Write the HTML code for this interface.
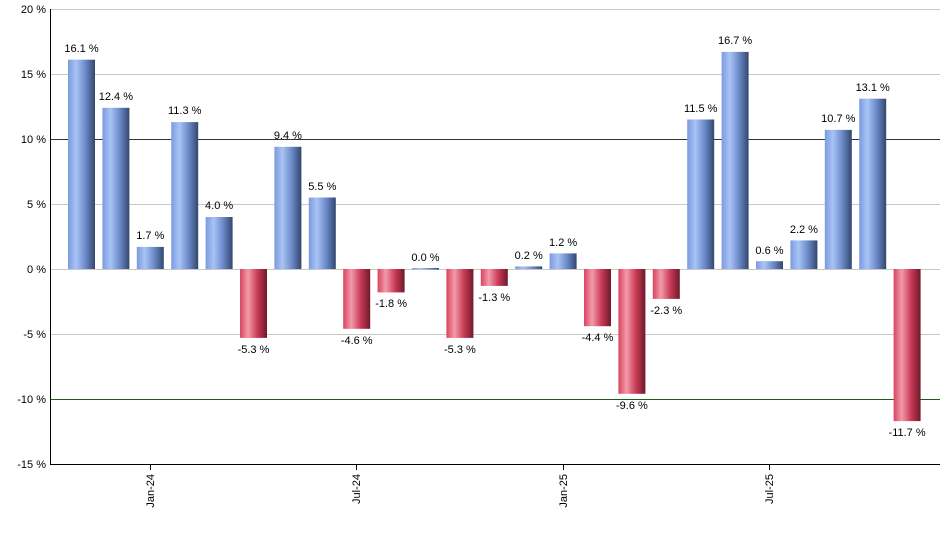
<!DOCTYPE html>
<html><head><meta charset="utf-8"><style>body{margin:0;background:#fff}svg{display:block;font-family:"Liberation Sans",sans-serif}</style></head><body>
<svg width="940" height="550" xmlns="http://www.w3.org/2000/svg">
<defs>
<linearGradient id="b" x1="0" x2="1" y1="0" y2="0"><stop offset="0" stop-color="#7b9be0"/><stop offset="0.3" stop-color="#a9c3f5"/><stop offset="0.65" stop-color="#6a89c8"/><stop offset="1" stop-color="#33476e"/></linearGradient>
<linearGradient id="r" x1="0" x2="1" y1="0" y2="0"><stop offset="0" stop-color="#d9445f"/><stop offset="0.3" stop-color="#f29aaa"/><stop offset="0.65" stop-color="#c93a55"/><stop offset="1" stop-color="#6e1a2b"/></linearGradient>
</defs>
<g stroke="#c8c8c8" stroke-width="1">
<line x1="51" x2="940" y1="9.5" y2="9.5"/><line x1="51" x2="940" y1="74.5" y2="74.5"/><line x1="51" x2="940" y1="204.5" y2="204.5"/><line x1="51" x2="940" y1="269.5" y2="269.5"/><line x1="51" x2="940" y1="334.5" y2="334.5"/>
</g>
<line x1="51" x2="940" y1="139.5" y2="139.5" stroke="#333"/>
<line x1="51" x2="940" y1="399.5" y2="399.5" stroke="#1a5e1a"/>
<g font-size="11" fill="#000" text-anchor="end">
<text x="46" y="13">20 %</text><text x="46" y="78">15 %</text><text x="46" y="143">10 %</text><text x="46" y="208">5 %</text><text x="46" y="273">0 %</text><text x="46" y="338">-5 %</text><text x="46" y="403">-10 %</text><text x="46" y="468">-15 %</text>
</g>
<g>
<rect x="68" y="59.7" width="27" height="209.3" fill="url(#b)"/>
<rect x="102.4" y="107.8" width="27" height="161.2" fill="url(#b)"/>
<rect x="136.8" y="246.9" width="27" height="22.1" fill="url(#b)"/>
<rect x="171.2" y="122.1" width="27" height="146.9" fill="url(#b)"/>
<rect x="205.6" y="217" width="27" height="52" fill="url(#b)"/>
<rect x="240" y="269" width="27" height="68.9" fill="url(#r)"/>
<rect x="274.4" y="146.8" width="27" height="122.2" fill="url(#b)"/>
<rect x="308.8" y="197.5" width="27" height="71.5" fill="url(#b)"/>
<rect x="343.2" y="269" width="27" height="59.8" fill="url(#r)"/>
<rect x="377.6" y="269" width="27" height="23.4" fill="url(#r)"/>
<rect x="412" y="268" width="27" height="1.5" fill="url(#b)"/>
<rect x="446.4" y="269" width="27" height="68.9" fill="url(#r)"/>
<rect x="480.8" y="269" width="27" height="16.9" fill="url(#r)"/>
<rect x="515.2" y="266.4" width="27" height="2.6" fill="url(#b)"/>
<rect x="549.6" y="253.4" width="27" height="15.6" fill="url(#b)"/>
<rect x="584" y="269" width="27" height="57.2" fill="url(#r)"/>
<rect x="618.4" y="269" width="27" height="124.8" fill="url(#r)"/>
<rect x="652.8" y="269" width="27" height="29.9" fill="url(#r)"/>
<rect x="687.2" y="119.5" width="27" height="149.5" fill="url(#b)"/>
<rect x="721.6" y="51.9" width="27" height="217.1" fill="url(#b)"/>
<rect x="756" y="261.2" width="27" height="7.8" fill="url(#b)"/>
<rect x="790.4" y="240.4" width="27" height="28.6" fill="url(#b)"/>
<rect x="824.8" y="129.9" width="27" height="139.1" fill="url(#b)"/>
<rect x="859.2" y="98.7" width="27" height="170.3" fill="url(#b)"/>
<rect x="893.6" y="269" width="27" height="152.1" fill="url(#r)"/>
</g>
<g font-size="11" fill="#000" text-anchor="middle">
<text x="81.5" y="52">16.1 %</text>
<text x="115.9" y="100">12.4 %</text>
<text x="150.3" y="239">1.7 %</text>
<text x="184.7" y="114">11.3 %</text>
<text x="219.1" y="209">4.0 %</text>
<text x="253.5" y="353">-5.3 %</text>
<text x="287.9" y="139">9.4 %</text>
<text x="322.3" y="190">5.5 %</text>
<text x="356.7" y="344">-4.6 %</text>
<text x="391.1" y="307">-1.8 %</text>
<text x="425.5" y="261">0.0 %</text>
<text x="459.9" y="353">-5.3 %</text>
<text x="494.3" y="301">-1.3 %</text>
<text x="528.7" y="259">0.2 %</text>
<text x="563.1" y="246">1.2 %</text>
<text x="597.5" y="341">-4.4 %</text>
<text x="631.9" y="409">-9.6 %</text>
<text x="666.3" y="314">-2.3 %</text>
<text x="700.7" y="112">11.5 %</text>
<text x="735.1" y="44">16.7 %</text>
<text x="769.5" y="254">0.6 %</text>
<text x="803.9" y="233">2.2 %</text>
<text x="838.3" y="122">10.7 %</text>
<text x="872.7" y="91">13.1 %</text>
<text x="907.1" y="436">-11.7 %</text>
</g>
<line x1="50.5" x2="50.5" y1="9" y2="465" stroke="#000"/>
<line x1="50" x2="940" y1="464.5" y2="464.5" stroke="#000"/>
<g stroke="#000"><line x1="150.5" x2="150.5" y1="464" y2="470"/><line x1="356.5" x2="356.5" y1="464" y2="470"/><line x1="563.5" x2="563.5" y1="464" y2="470"/><line x1="769.5" x2="769.5" y1="464" y2="470"/></g>
<g font-size="11" fill="#000" text-anchor="end">
<text transform="translate(154,474) rotate(-90)">Jan-24</text>
<text transform="translate(360,474) rotate(-90)">Jul-24</text>
<text transform="translate(567,474) rotate(-90)">Jan-25</text>
<text transform="translate(773,474) rotate(-90)">Jul-25</text>
</g>
</svg>
</body></html>
